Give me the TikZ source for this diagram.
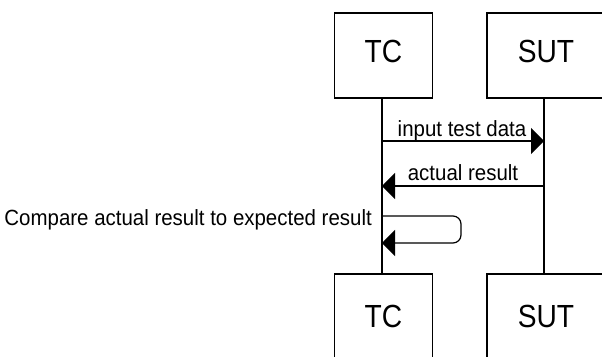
\documentclass[tikz,border=0pt]{standalone}
\usepackage{fontspec}
\setmainfont{Liberation Sans}[FakeStretch=0.88]
\newfontfamily\msgfont{Liberation Sans}[FakeStretch=0.93]
\usetikzlibrary{arrows.meta}
\tikzset{
  actor/.style={draw=black, line width=1.2pt, minimum height=85pt, inner sep=0pt,
    font=\fontsize{32}{36}\selectfont},
  lifeline/.style={line width=1.2pt},
  msg/.style={line width=1.2pt, -{Triangle[length=13pt,width=26pt]}},
  msglabel/.style={anchor=base, inner sep=0pt, font=\msgfont\fontsize{22}{26}\selectfont}
}
\begin{document}
\begin{tikzpicture}[x=1pt,y=-1pt]
  \useasboundingbox (0,0) rectangle (602,356);
  % participant heads
  \node[actor, minimum width=98pt, text depth=8pt] (tcTop) at (383.5,55.5) {TC};
  \node[actor, minimum width=118pt, text depth=8pt] (sutTop) at (546,55.5) {SUT};
  % participant feet
  \node[actor, minimum width=98pt] (tcBot) at (383.5,316.5) {TC};
  \node[actor, minimum width=118pt] (sutBot) at (546,316.5) {SUT};
  % lifelines
  \draw[lifeline] (tcTop.south -| 382,0) -- (tcBot.north -| 382,0);
  \draw[lifeline] (sutTop.south -| 544,0) -- (sutBot.north -| 544,0);
  % message anchor points on the lifelines
  \coordinate (m1s) at (382,141);
  \coordinate (m1e) at (544,141);
  \coordinate (m2s) at (544,186);
  \coordinate (m2e) at (382,186);
  \coordinate (m3s) at (382,216);
  \coordinate (m3e) at (382,243);
  % messages
  \draw[msg] (m1s) -- (m1e);
  \node[msglabel] (l1) at (462,136) {input test data};
  \draw[msg] (m2s) -- (m2e);
  \node[msglabel] (l2) at (463,180) {actual result};
  \draw[msg, rounded corners=8pt] (m3s) -- (461,216) -- (461,243) -- (m3e);
  \node[msglabel, anchor=base east] (l3) at (372,225) {Compare actual result to expected result};
\end{tikzpicture}
\end{document}
